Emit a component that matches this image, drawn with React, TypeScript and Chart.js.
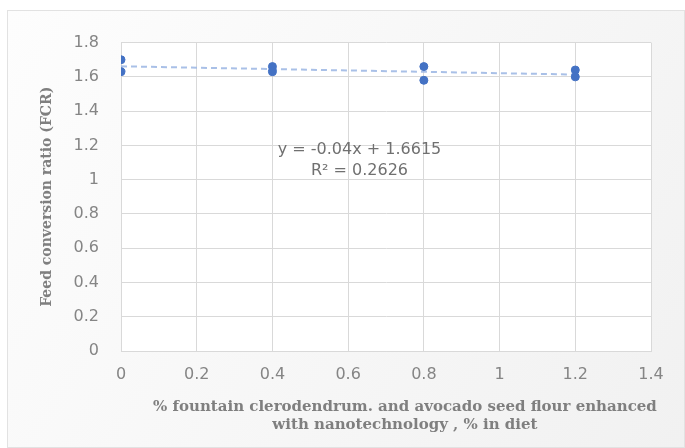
import React, { useEffect, useRef } from "react";
import { Chart, registerables } from "chart.js";

Chart.register(...registerables);

// Data
const doseLevels = [0, 0, 0.4, 0.4, 0.8, 0.8, 1.2, 1.2];
const fcrValues = [1.7, 1.63, 1.66, 1.63, 1.66, 1.58, 1.64, 1.6];
const trendX = [0, 1.2];
const trendY = [1.6615, 1.6135];
const equationLines = ["y = -0.04x + 1.6615", "R² = 0.2626"];
const equationAnchorX = 0.63;
const equationAnchorY = [1.174, 1.05];
const yTitle = "Feed conversion ratio (FCR)";
const xTitle = [
  "% fountain clerodendrum. and avocado seed flour enhanced",
  "with nanotechnology , % in diet",
];
const xTitleAnchor = 0.75;

const fmt = (v: any) => String(Number(Number(v).toFixed(2)));

const bgPlugin = {
  id: "bgPlugin",
  beforeDraw(chart: any) {
    const { ctx, chartArea } = chart;
    ctx.save();
    const g = ctx.createLinearGradient(0, 0, chart.width, chart.height);
    g.addColorStop(0, "#fdfdfd");
    g.addColorStop(1, "#f1f1f1");
    ctx.fillStyle = g;
    ctx.fillRect(0, 0, chart.width, chart.height);
    ctx.fillStyle = "#ffffff";
    ctx.fillRect(chartArea.left, chartArea.top, chartArea.right - chartArea.left, chartArea.bottom - chartArea.top);
    ctx.restore();
  },
};

const textPlugin = {
  id: "textPlugin",
  afterDatasetsDraw(chart: any) {
    const { ctx, scales } = chart;
    ctx.save();
    ctx.font = "16px 'DejaVu Sans'";
    ctx.fillStyle = "#707070";
    ctx.textAlign = "center";
    ctx.textBaseline = "middle";
    const x = scales.x.getPixelForValue(equationAnchorX);
    equationLines.forEach((t, i) => {
      ctx.fillText(t, x, scales.y.getPixelForValue(equationAnchorY[i]));
    });
    // x-axis title
    ctx.font = "bold 15px 'DejaVu Serif'";
    ctx.fillStyle = "#7f7f7f";
    const tx = scales.x.getPixelForValue(xTitleAnchor);
    const base = scales.x.bottom - 13 - 9 - 18 * (xTitle.length - 1);
    xTitle.forEach((t, i) => {
      ctx.fillText(t, tx, base + 18 * i);
    });
    ctx.restore();
  },
};

export default function App() {
  const ref = useRef<HTMLCanvasElement>(null);
  useEffect(() => {
    if (!ref.current) return;
    const chart = new Chart(ref.current, {
      type: "scatter",
      data: {
        datasets: [
          {
            label: "FCR",
            data: doseLevels.map((x, i) => ({ x, y: fcrValues[i] })),
            backgroundColor: "#4472C4",
            borderColor: "#4472C4",
            pointRadius: 4,
            pointHoverRadius: 4,
            order: 1,
          },
          {
            label: "Trend",
            data: trendX.map((x, i) => ({ x, y: trendY[i] })),
            showLine: true,
            borderColor: "rgba(160,185,228,0.9)",
            borderWidth: 2,
            borderDash: [6, 4],
            pointRadius: 0,
            order: 2,
          } as any,
        ],
      },
      options: {
        animation: false,
        responsive: true,
        maintainAspectRatio: false,
        layout: { padding: { left: 0, top: 21, right: 33, bottom: 0 } },
        plugins: { legend: { display: false }, tooltip: { enabled: false } },
        scales: {
          x: {
            type: "linear",
            min: 0,
            max: 1.4,
            ticks: {
              stepSize: 0.2,
              padding: 14,
              color: "#858585",
              font: { family: "'DejaVu Sans'", size: 16 },
              callback: fmt,
            },
            grid: { color: "#d9d9d9", drawTicks: false },
            border: { color: "#d9d9d9" },
            title: { display: false },
            afterFit(scale: any) {
              scale.height = 96;
            },
          },
          y: {
            type: "linear",
            min: 0,
            max: 1.8,
            ticks: {
              stepSize: 0.2,
              padding: 22,
              color: "#858585",
              font: { family: "'DejaVu Sans'", size: 16 },
              callback: fmt,
            },
            grid: { color: "#d9d9d9", drawTicks: false },
            border: { color: "#d9d9d9" },
            title: {
              display: true,
              text: yTitle,
              color: "#7f7f7f",
              font: { family: "'DejaVu Serif'", size: 14, weight: "bold", lineHeight: 1.2 },
              padding: { top: 31, bottom: 0 },
            },
            afterFit(scale: any) {
              scale.width = 113;
            },
          },
        },
      },
      plugins: [bgPlugin, textPlugin],
    });
    return () => chart.destroy();
  }, []);

  return (
    <div
      style={{
        position: "absolute",
        left: 7,
        top: 10,
        width: 676,
        height: 436,
        border: "1px solid #e2e2e2",
      }}
    >
      <canvas ref={ref} />
    </div>
  );
}
